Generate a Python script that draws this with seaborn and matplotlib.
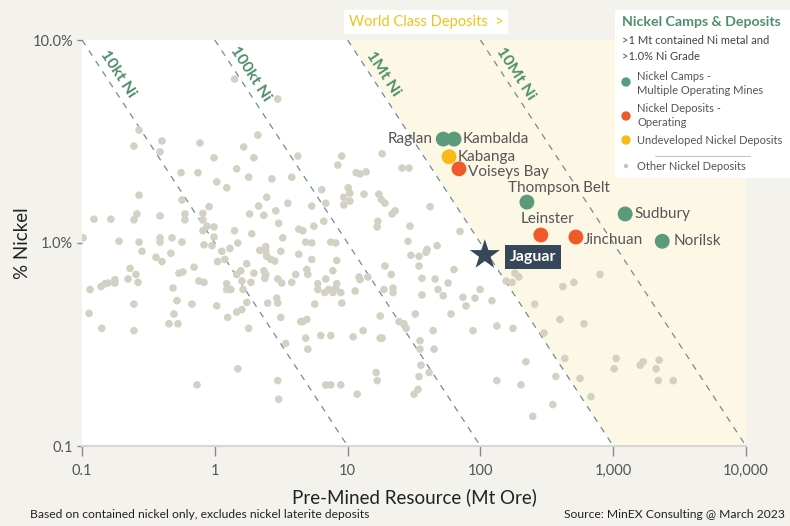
import matplotlib
matplotlib.use("Agg")
import numpy as np
import pandas as pd
import matplotlib.pyplot as plt
import seaborn as sns

# ---------------- data ----------------
other_resource_mt = [
    1.41, 2.98, 2.11, 0.269, 0.246, 0.40, 0.387, 0.773, 1.65, 0.986,
    1.97, 4.22, 1.46, 0.557, 0.747, 1.80, 2.69, 3.80, 1.035, 1.23,
    2.46, 0.269, 3.55, 0.566, 0.906, 2.14, 2.88, 0.123, 0.165, 0.246,
    0.259, 0.387, 0.596, 0.596, 0.814, 0.814, 0.873, 0.986, 0.814, 0.986,
    1.41, 1.83, 2.34, 3.03, 1.90, 3.25, 4.29, 0.19, 0.269, 0.387,
    0.387, 0.476, 0.566, 0.102, 0.283, 0.361, 0.40, 0.467, 0.829, 0.952,
    1.13, 1.30, 1.49, 1.05, 1.19, 2.18, 2.42, 2.42, 2.46, 2.64,
    2.83, 3.14, 4.29, 0.23, 0.255, 0.222, 0.264, 0.115, 0.139, 0.149,
    0.157, 0.177, 0.177, 0.537, 0.576, 0.698, 0.76, 0.829, 0.484, 0.519,
    0.673, 0.246, 0.113, 0.141, 0.246, 0.493, 0.452, 0.528, 1.035, 1.25,
    1.46, 1.60, 1.80, 1.49, 0.734, 2.98, 3.03, 3.42, 3.14, 2.50,
    2.93, 2.98, 1.74, 1.23, 1.32, 1.23, 1.46, 1.57, 1.60, 1.63,
    1.74, 1.97, 1.87, 2.34, 2.42, 2.38, 2.98, 3.19, 3.80, 4.07,
    4.44, 9.04, 8.43, 18.2, 11.6, 12.4, 13.8, 25.7, 29.0, 6.39,
    6.85, 5.37, 9.36, 10.1, 10.4, 10.4, 9.36, 13.3, 17.2, 17.9,
    19.1, 22.8, 21.6, 41.8, 16.9, 16.7, 6.62, 5.57, 4.60, 29.5,
    70.2, 28.5, 7.47, 8.14, 4.84, 5.37, 39.7, 39.0, 47.2, 30.0,
    34.5, 5.37, 8.29, 34.5, 4.93, 5.02, 7.74, 6.85, 5.96, 5.96,
    6.73, 7.21, 7.74, 8.29, 8.14, 8.88, 12.2, 12.4, 14.2, 11.4,
    19.1, 21.3, 18.8, 22.0, 22.0, 36.3, 45.6, 48.0, 57.1, 63.3,
    36.3, 52.5, 74.0, 91.1, 99.5, 122, 77.9, 9.04, 5.66, 32.3,
    17.6, 60.1, 4.60, 4.93, 13.1, 11.0, 4.84, 6.28, 7.47, 5.02,
    17.6, 18.2, 24.4, 26.6, 27.6, 44.1, 88.0, 133, 176, 35.1,
    35.1, 44.8, 35.7, 41.1, 34.5, 33.9, 31.7, 16.4, 16.7, 6.85,
    7.47, 8.88, 11.8, 133, 156, 173, 182, 195, 418, 506,
    795, 257, 397, 602, 301, 432, 220, 202, 370, 562,
    680, 351, 248, 1053, 1017, 1683, 1597, 2220, 2108, 2183, 2830,
]
other_grade_pct = [
    6.42, 5.12, 3.40, 3.60, 3.00, 3.18, 2.81, 3.11, 2.97, 2.63,
    2.63, 2.68, 2.32, 2.22, 2.22, 2.11, 2.07, 2.11, 2.00, 1.87,
    1.68, 1.72, 1.57, 1.63, 1.51, 1.52, 1.44, 1.31, 1.31, 1.30,
    1.39, 1.36, 1.39, 1.30, 1.40, 1.30, 1.21, 1.20, 1.15, 1.07,
    1.15, 1.39, 1.37, 1.25, 1.11, 1.06, 1.17, 1.02, 1.01, 1.06,
    1.01, 1.06, 1.01, 1.06, 0.91, 0.85, 0.81, 0.89, 0.98, 0.97,
    0.91, 0.94, 1.00, 0.81, 0.83, 0.92, 0.96, 0.91, 0.86, 0.83,
    0.815, 0.91, 0.88, 0.75, 0.70, 0.665, 0.64, 0.59, 0.61, 0.63,
    0.635, 0.66, 0.635, 0.71, 0.72, 0.76, 0.65, 0.64, 0.60, 0.52,
    0.50, 0.50, 0.45, 0.38, 0.37, 0.447, 0.40, 0.40, 0.49, 0.43,
    0.457, 0.47, 0.38, 0.24, 0.20, 0.21, 0.17, 0.32, 0.43, 0.506,
    0.535, 0.506, 0.51, 0.63, 0.59, 0.59, 0.70, 0.73, 0.65, 0.59,
    0.79, 0.71, 0.64, 0.73, 0.70, 0.67, 0.665, 0.635, 0.64, 0.70,
    0.41, 2.68, 2.42, 2.75, 2.22, 2.19, 2.24, 2.34, 2.34, 1.83,
    1.57, 1.52, 1.68, 1.87, 1.76, 1.61, 1.54, 1.74, 1.74, 1.64,
    1.57, 1.44, 1.39, 1.51, 1.28, 1.20, 1.28, 1.21, 1.15, 1.21,
    1.14, 1.02, 1.01, 1.00, 1.01, 1.00, 0.93, 0.90, 0.97, 0.87,
    0.86, 0.83, 0.82, 0.77, 0.74, 0.70, 0.73, 0.665, 0.63, 0.59,
    0.57, 0.59, 0.57, 0.63, 0.60, 0.57, 0.68, 0.66, 0.68, 0.58,
    0.77, 0.70, 0.59, 0.60, 0.57, 0.67, 0.665, 0.59, 0.635, 0.74,
    0.555, 0.55, 0.54, 0.535, 0.59, 0.52, 0.49, 0.506, 0.50, 0.447,
    0.437, 0.447, 0.41, 0.42, 0.37, 0.345, 0.34, 0.35, 0.35, 0.30,
    0.34, 0.34, 0.41, 0.40, 0.38, 0.37, 0.37, 0.39, 0.38, 0.33,
    0.30, 0.30, 0.25, 0.23, 0.22, 0.19, 0.18, 0.23, 0.21, 0.20,
    0.20, 0.20, 0.18, 0.21, 0.65, 0.64, 0.71, 0.68, 0.61, 0.64,
    0.70, 0.50, 0.42, 0.40, 0.36, 0.27, 0.26, 0.20, 0.22, 0.215,
    0.175, 0.16, 0.14, 0.27, 0.24, 0.26, 0.25, 0.265, 0.24, 0.21, 0.21,
]

deposit_names = ["Raglan", "Kambalda", "Kabanga", "Voiseys Bay", "Thompson Belt",
                 "Leinster", "Jinchuan", "Sudbury", "Norilsk"]
deposit_resource_mt = [52.5, 63.3, 58.1, 69.0, 224, 285, 524, 1230, 2340]
deposit_grade_pct = [3.25, 3.25, 2.66, 2.32, 1.59, 1.095, 1.07, 1.39, 1.02]
deposit_types = ["Camp", "Camp", "Undeveloped", "Operating", "Camp",
                 "Operating", "Operating", "Camp", "Camp"]

jaguar_resource_mt = [108]
jaguar_grade_pct = [0.873]

contour_kt = [10, 100, 1000, 10000]
contour_labels = ["10kt Ni", "100kt Ni", "1Mt Ni", "10Mt Ni"]

x_ticks = [0.1, 1, 10, 100, 1000, 10000]
x_ticklabels = ["0.1", "1", "10", "100", "1,000", "10,000"]
y_ticks = [0.1, 1, 10]
y_ticklabels = ["0.1", "1.0%", "10.0%"]

# ---------------- style ----------------
BG = "#f3f2ed"
CREAM = "#fdf8e5"
GRAY_DOT = "#d3d1c3"
GREEN = "#5b9a7a"
ORANGE = "#f05a28"
YELLOW = "#f8bb15"
SLATE = "#364759"
DASH = "#6d8d97"
LABEL_GREEN = "#4e8f6c"
TXT = "#555555"

sns.set_style("white")
plt.rcParams["font.family"] = ["Lato", "DejaVu Sans"]

W, H = 790, 526
fig = plt.figure(figsize=(W / 100, H / 100), dpi=100, facecolor=BG)
ax = fig.add_axes([82 / W, 1 - 446 / H, (746 - 82) / W, (446 - 40) / H])
ax.set_facecolor("white")
ax.set_xscale("log")
ax.set_yscale("log")
ax.set_xlim(0.1, 10000)
ax.set_ylim(0.1, 10)

# world-class shading (beyond 1Mt contained Ni)
ax.fill([10, 10000, 10000, 1000], [10, 10, 0.1, 0.1], color=CREAM, lw=0, zorder=0)

# contained-metal contours: ore(Mt) * grade(%) / 100 = Ni (Mt)
px_x_dec = (746 - 82) / 5
px_y_dec = (446 - 40) / 2
ang = -np.degrees(np.arctan2(px_y_dec, px_x_dec))
for kt, lab in zip(contour_kt, contour_labels):
    prod = kt / 10.0
    xs = np.array([prod / 10.0, prod / 0.1])
    ax.plot(xs, prod / xs, ls=(0, (5, 5)), color=DASH, lw=0.9, zorder=1)
    ylab = 6.8
    ax.text(prod / ylab * 1.26, ylab, lab, rotation=ang, rotation_mode="anchor",
            ha="center", va="center", color=LABEL_GREEN, fontsize=11.5,
            fontweight="bold", zorder=2)

# other deposits
sns.scatterplot(x=other_resource_mt, y=other_grade_pct, ax=ax, color=GRAY_DOT,
                s=30, edgecolor="none", linewidth=0, zorder=3, legend=False)

# named deposits
dep = pd.DataFrame({"name": deposit_names, "resource": deposit_resource_mt,
                    "grade": deposit_grade_pct, "type": deposit_types})
sns.scatterplot(data=dep, x="resource", y="grade", hue="type", ax=ax,
                palette={"Camp": GREEN, "Operating": ORANGE, "Undeveloped": YELLOW},
                s=115, edgecolor="none", linewidth=0, zorder=4, legend=False)

# Jaguar
sns.scatterplot(x=jaguar_resource_mt, y=jaguar_grade_pct, ax=ax, marker="*",
                color=SLATE, s=520, edgecolor="none", linewidth=0, zorder=5, legend=False)

label_offsets = {
    "Raglan": (-7.5, 0, "right"),
    "Kambalda": (6.5, 0, "left"),
    "Kabanga": (6.5, 0, "left"),
    "Voiseys Bay": (6.5, -2, "left"),
    "Thompson Belt": (-13.5, 10, "left"),
    "Leinster": (4.5, 11.5, "center"),
    "Jinchuan": (6, -2, "left"),
    "Sudbury": (7, 0, "left"),
    "Norilsk": (8, 0, "left"),
}
for _, r in dep.iterrows():
    dx, dy, ha = label_offsets[r["name"]]
    ax.annotate(r["name"], (r["resource"], r["grade"]), xytext=(dx, dy),
                textcoords="offset points", ha=ha, va="center", fontsize=11,
                color=TXT, zorder=6)

ax.annotate("Jaguar", (jaguar_resource_mt[0], jaguar_grade_pct[0]), xytext=(35, -1.5),
            textcoords="offset points", ha="center", va="center", fontsize=11.5,
            fontweight="bold", color="white", zorder=6,
            bbox=dict(boxstyle="square,pad=0.3", fc=SLATE, ec="none"))

# axes styling
for s in ["left", "top", "right"]:
    ax.spines[s].set_visible(False)
ax.spines["bottom"].set_color("#d6d6d6")
ax.spines["bottom"].set_linewidth(1.5)
ax.set_xticks(x_ticks)
ax.set_xticklabels(x_ticklabels)
ax.set_yticks(y_ticks)
ax.set_yticklabels(y_ticklabels)
ax.minorticks_off()
ax.tick_params(axis="x", length=7, width=1, color="#888888", labelsize=10.5,
               labelcolor=TXT, pad=6, bottom=True)
ax.tick_params(axis="y", length=3.5, width=1, color="#888888", labelsize=10.5,
               labelcolor=TXT, pad=3, left=True)
ax.set_xlabel("Pre-Mined Resource (Mt Ore)", fontsize=13.5, color="#222222", labelpad=7)
ax.set_ylabel("% Nickel", fontsize=13.5, color="#222222", labelpad=1)
ax.grid(False)

# world class banner
fig.text(426 / W, 1 - 22 / H, "World Class Deposits  >", ha="center", va="center",
         fontsize=10.5, color="#f2c21b",
         bbox=dict(boxstyle="square,pad=0.35", fc="white", ec="none"))

# footer
fig.text(30 / W, 1 - 515 / H, "Based on contained nickel only, excludes nickel laterite deposits",
         ha="left", va="center", fontsize=8.7, color="#222222")
fig.text(785 / W, 1 - 515 / H, "Source: MinEX Consulting @ March 2023",
         ha="right", va="center", fontsize=8.7, color="#222222")

# custom legend panel
lx0, ly0, lx1, ly1 = 615, 10, 790, 178
lax = fig.add_axes([lx0 / W, 1 - ly1 / H, (lx1 - lx0) / W, (ly1 - ly0) / H])
lax.set_facecolor("white")
lax.set_xlim(lx0, lx1)
lax.set_ylim(ly1, ly0)
lax.set_xticks([])
lax.set_yticks([])
for s in lax.spines.values():
    s.set_visible(False)
lax.text(622, 22, "Nickel Camps & Deposits", fontsize=10.2, fontweight="bold",
         color=LABEL_GREEN, va="center", ha="left")
lax.text(622, 40, ">1 Mt contained Ni metal and", fontsize=8, color="#444444", va="center")
lax.text(622, 56, ">1.0% Ni Grade", fontsize=8, color="#444444", va="center")
lax.scatter([626], [82], s=45, color=GREEN, edgecolor="none")
lax.text(637, 76, "Nickel Camps -", fontsize=8, color=TXT, va="center")
lax.text(637, 90, "Multiple Operating Mines", fontsize=8, color=TXT, va="center")
lax.scatter([626], [116], s=45, color=ORANGE, edgecolor="none")
lax.text(637, 109, "Nickel Deposits -", fontsize=8, color=TXT, va="center")
lax.text(637, 122, "Operating", fontsize=8, color=TXT, va="center")
lax.scatter([626], [140], s=45, color=YELLOW, edgecolor="none")
lax.text(637, 140, "Undeveloped Nickel Deposits", fontsize=8, color=TXT, va="center")
lax.plot([655, 750], [156, 156], color="#b9cad5", lw=0.8)
lax.scatter([626], [166], s=10, color="#c4c2b2", edgecolor="none")
lax.text(637, 166, "Other Nickel Deposits", fontsize=8, color=TXT, va="center")

fig.savefig("out.png", dpi=100, facecolor=BG)
